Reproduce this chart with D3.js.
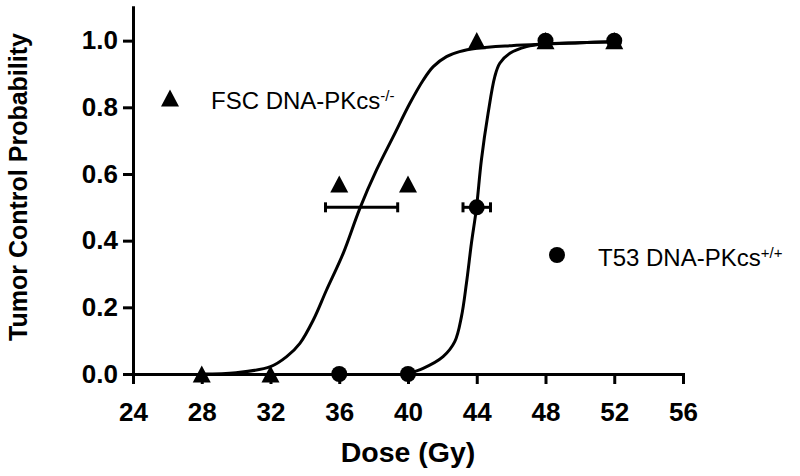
<!DOCTYPE html>
<html>
<head>
<meta charset="utf-8">
<script src="https://cdn.jsdelivr.net/npm/d3@7/dist/d3.min.js"></script>
<style>
  html, body { margin: 0; padding: 0; background: #fff; }
  svg { display: block; }
  text { font-family: "Liberation Sans", Arial, sans-serif; fill: #000; }
</style>
</head>
<body>
<svg id="chart" width="800" height="476"></svg>
<script>
// ---- data ----
const xTicks = [24, 28, 32, 36, 40, 44, 48, 52, 56];
const yTicks = [0, 0.2, 0.4, 0.6, 0.8, 1.0];

const fscDose = [28, 32, 36, 40, 44, 48, 52];
const fscTCP  = [0, 0, 0.57, 0.57, 1.0, 1.0, 1.0];

const t53Dose = [36, 40, 44, 48, 52];
const t53TCP  = [0, 0, 0.5, 1.0, 1.0];

// TCD50 with horizontal error bars [center, low, high, y]
const fscTCD50 = [37.3, 35.2, 39.4, 0.5];
const t53TCD50 = [44.0, 43.2, 44.8, 0.5];

// fitted curves
const fscCurveX = [28, 30, 32, 32.94, 33.71, 34.49, 35.26, 36.23, 37.2, 38.17, 39.14, 40.11, 40.89, 41.47, 42.24, 43.0, 44, 46, 48, 50, 52];
const fscCurveY = [0, 0.004, 0.022, 0.052, 0.092, 0.162, 0.252, 0.362, 0.497, 0.612, 0.712, 0.812, 0.882, 0.922, 0.952, 0.967, 0.977, 0.985, 0.99, 0.994, 0.997];
const t53CurveX = [40, 40.88, 42.04, 42.72, 43.11, 43.4, 43.69, 43.98, 44.27, 44.66, 45.05, 45.34, 45.93, 46.9, 47.87, 50, 52];
const t53CurveY = [0.002, 0.017, 0.052, 0.097, 0.172, 0.272, 0.392, 0.497, 0.642, 0.782, 0.892, 0.932, 0.962, 0.982, 0.99, 0.994, 0.997];

const legendLabels = [["FSC DNA-PKcs", "-/-"], ["T53 DNA-PKcs", "+/+"]];
const xTitle = "Dose (Gy)";
const yTitle = "Tumor Control Probability";

// ---- layout ----
const svg = d3.select("#chart");
const x = d3.scaleLinear().domain([24, 56]).range([133, 683]);
const y = d3.scaleLinear().domain([0, 1.1]).range([374, 7.3]);

// custom bbox-centred triangle
const triType = {
  draw(ctx, size) {
    const w = Math.sqrt(size), h = w * 0.95;
    ctx.moveTo(0, -h / 2);
    ctx.lineTo(w / 2, h / 2);
    ctx.lineTo(-w / 2, h / 2);
    ctx.closePath();
  }
};
const triPath = d3.symbol().type(triType).size(18 * 18)();
const circPath = d3.symbol().type(d3.symbolCircle).size(Math.PI * 8 * 8)();

// axes
const xAxis = svg.append("g")
  .attr("transform", `translate(0,${y(0)})`)
  .call(d3.axisBottom(x).tickValues(xTicks).tickSize(10).tickSizeOuter(0).tickPadding(19).tickFormat(d3.format("d")));
const yAxis = svg.append("g")
  .attr("transform", `translate(${x(24)},0)`)
  .call(d3.axisLeft(y).tickValues(yTicks).tickSize(10).tickSizeOuter(0).tickPadding(5).tickFormat(d3.format(".1f")));

[xAxis, yAxis].forEach(g => {
  g.selectAll("path.domain").attr("stroke", "#000").attr("stroke-width", 3).attr("stroke-linecap", "square");
  g.selectAll(".tick line").attr("stroke", "#000").attr("stroke-width", 3);
  g.selectAll(".tick text")
    .style("font-family", '"Liberation Sans", Arial, sans-serif')
    .style("font-weight", "bold")
    .style("font-size", "26px")
    .attr("fill", "#000");
});

// titles
svg.append("text")
  .attr("x", (x(24) + x(56)) / 2).attr("y", 462)
  .attr("text-anchor", "middle")
  .style("font-weight", "bold").style("font-size", "28.5px")
  .text(xTitle);
svg.append("text")
  .attr("transform", "translate(27,187) rotate(-90)")
  .attr("text-anchor", "middle")
  .style("font-weight", "bold").style("font-size", "25px")
  .text(yTitle);

// curves
const line = d3.line().x(d => x(d[0])).y(d => y(d[1])).curve(d3.curveCatmullRom.alpha(0.5));
const fscCurve = d3.zip(fscCurveX, fscCurveY);
const t53Curve = d3.zip(t53CurveX, t53CurveY);
[fscCurve, t53Curve].forEach(c => {
  svg.append("path").datum(c).attr("d", line)
    .attr("fill", "none").attr("stroke", "#000").attr("stroke-width", 3)
    .attr("stroke-linejoin", "round");
});

// error bars
[fscTCD50, t53TCD50].forEach(e => {
  const g = svg.append("g").attr("stroke", "#000").attr("stroke-width", 3);
  g.append("line").attr("x1", x(e[1])).attr("x2", x(e[2])).attr("y1", y(e[3])).attr("y2", y(e[3]));
  [e[1], e[2]].forEach(v => g.append("line")
    .attr("x1", x(v)).attr("x2", x(v)).attr("y1", y(e[3]) - 5).attr("y2", y(e[3]) + 5));
});

// markers
svg.append("g").selectAll("path").data(d3.zip(fscDose, fscTCP)).join("path")
  .attr("d", triPath).attr("fill", "#000")
  .attr("transform", d => `translate(${x(d[0])},${y(d[1])})`);
svg.append("g").selectAll("path").data(d3.zip(t53Dose, t53TCP)).join("path")
  .attr("d", circPath).attr("fill", "#000")
  .attr("transform", d => `translate(${x(d[0])},${y(d[1])})`);

// legends
const legendPos = [[170, 98], [557, 255]];
const legendSym = [triPath, circPath];
legendLabels.forEach((lab, i) => {
  const [lx, ly] = legendPos[i];
  svg.append("path").attr("d", legendSym[i]).attr("fill", "#000")
    .attr("transform", `translate(${lx},${ly})`);
  const t = svg.append("text")
    .attr("x", lx + 41).attr("y", ly + 11)
    .style("font-size", "24px");
  t.append("tspan").text(lab[0]);
  t.append("tspan").attr("dy", -8).style("font-size", "15px").text(lab[1]);
});
</script>
</body>
</html>
